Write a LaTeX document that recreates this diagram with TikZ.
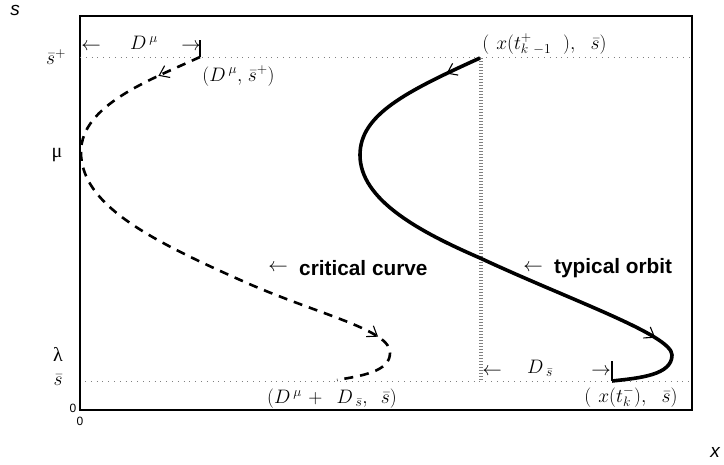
\RequirePackage{fix-cm}
\documentclass[tikz,border=0pt]{standalone}
\usepackage{fontspec}
\setsansfont{Liberation Sans}
\newfontfamily\grk{Liberation Serif}
\usetikzlibrary{arrows.meta,decorations.markings}
\begin{document}
\begin{tikzpicture}[x=1pt,y=-1pt,
  lab/.style={inner sep=0pt, font=\fontsize{19.5}{22}\selectfont},
  greek/.style={inner sep=0pt, font=\grk\fontsize{20}{23}\selectfont},
  boldlab/.style={inner sep=0pt, anchor=west, font=\fontsize{20.8}{24}\selectfont\sffamily\bfseries},
  axlab/.style={inner sep=0pt, font=\fontsize{19}{22}\selectfont\sffamily\itshape},
  zero/.style={inner sep=0pt, font=\fontsize{12}{14}\selectfont\sffamily},
  guide/.style={gray, line width=0.8pt, dash pattern=on 0.8pt off 5pt},
  vguide/.style={gray, line width=4pt, dash pattern=on 0.8pt off 2.2pt},
  crit/.style={line width=2.6pt, dash pattern=on 9pt off 7pt},
  orbitline/.style={line width=3.6pt},
  tickmark/.style={line width=1.2pt},
  frame/.style={line width=1.3pt},
  flowtip/.style={postaction={decorate, decoration={markings, mark=at position #1 with {\arrow[line width=1.1pt]{Straight Barb[length=9pt,width=13pt]}}}}},
]
\useasboundingbox (0,0) rectangle (724,464);

% frame
\draw[frame] (80,16) rectangle (692,410);

% guide lines
\coordinate (gtl) at (80,57.5);
\coordinate (gtr) at (692,57.5);
\coordinate (gbl) at (85,381);
\coordinate (gbr) at (692,381);
\coordinate (vt) at (481,58);
\coordinate (vb) at (481,381);
\draw[guide] (gtl) -- (gtr);
\draw[guide] (gbl) -- (gbr);
\draw[vguide] (vt) -- (vb);

% critical curve
\coordinate (cA) at (200,57);
\coordinate (cM) at (81,152);
\coordinate (cQ) at (247,283);
\coordinate (cL) at (390,353);
\coordinate (cE) at (337,380);
\draw[crit, flowtip=0.075, flowtip=0.86] (cA) .. controls (150,80) and (81,105) .. (cM)
  .. controls (81,205) and (150,240) .. (cQ)
  .. controls (320,315) and (391,330) .. (cL)
  .. controls (390,372) and (360,376) .. (cE);

% typical orbit
\coordinate (oA) at (480,58);
\coordinate (oM) at (360,155);
\coordinate (oC) at (480,258);
\coordinate (oR) at (672,355);
\coordinate (oE) at (612,381);
\draw[orbitline, flowtip=0.06, flowtip=0.845] (oA) .. controls (405,92) and (360,115) .. (oM)
  .. controls (360,200) and (420,232) .. (oC)
  .. controls (570,300) and (672,335) .. (oR)
  .. controls (672,375) and (640,378) .. (oE);

% ticks
\coordinate (tk1) at (200,40);
\coordinate (tk2) at (612,361);
\draw[tickmark] (tk1) -- (cA);
\draw[tickmark] (tk2) -- (oE);

% axis labels
\node[axlab] (sname) at (15,10) {s};
\node[axlab] (xname) at (715,452) {x};
\node[zero] (zy) at (73,408) {0};
\node[zero] (zx) at (80,421) {0};
\node[lab] (spl) at (56,57) {$\bar s^{+}$};
\node[greek] (mu) at (57,155) {μ};
\node[greek] (lam) at (58,354) {λ};
\node[lab] (sb) at (58,380) {$\bar s$};

% D^mu span
\node[lab] (dml) at (91,47) {$\leftarrow$};
\node[lab] (dm) at (144,43) {$D^{\hspace{3pt}\mu}$};
\node[lab] (dmr) at (191,47) {$\rightarrow$};
\node[lab] (p1) at (238.5,76) {$(D^{\hspace{3pt}\mu},\hspace{2pt}\bar s^{+})$};
\node[lab] (p2) at (544.5,44.5) {$(\hspace{7pt}x(t^{+}_{k\hspace{5pt}-1}\hspace{12pt}),\hspace{12pt}\bar s)$};
\node[lab] (p3) at (332,398.5) {$(D^{\hspace{3pt}\mu}\hspace{2pt}+\hspace{10pt}D_{\hspace{3pt}\bar s},\hspace{10pt}\bar s)$};
\node[lab] (p4) at (631,397) {$(\hspace{7pt}x(t^{-}_{k}),\hspace{12pt}\bar s)$};

% D_sbar span
\node[lab] (dsl) at (492,372) {$\leftarrow$};
\node[lab] (ds) at (540,368) {$D_{\hspace{3pt}\bar s}$};
\node[lab] (dsr) at (601,372) {$\rightarrow$};

% curve labels
\node[lab] (cal) at (278,268) {$\leftarrow$};
\node[boldlab] (cc) at (299,268) {critical curve};
\node[lab] (tal) at (533,268) {$\leftarrow$};
\node[boldlab] (to) at (554,268) {typical orbit};
\end{tikzpicture}
\end{document}
